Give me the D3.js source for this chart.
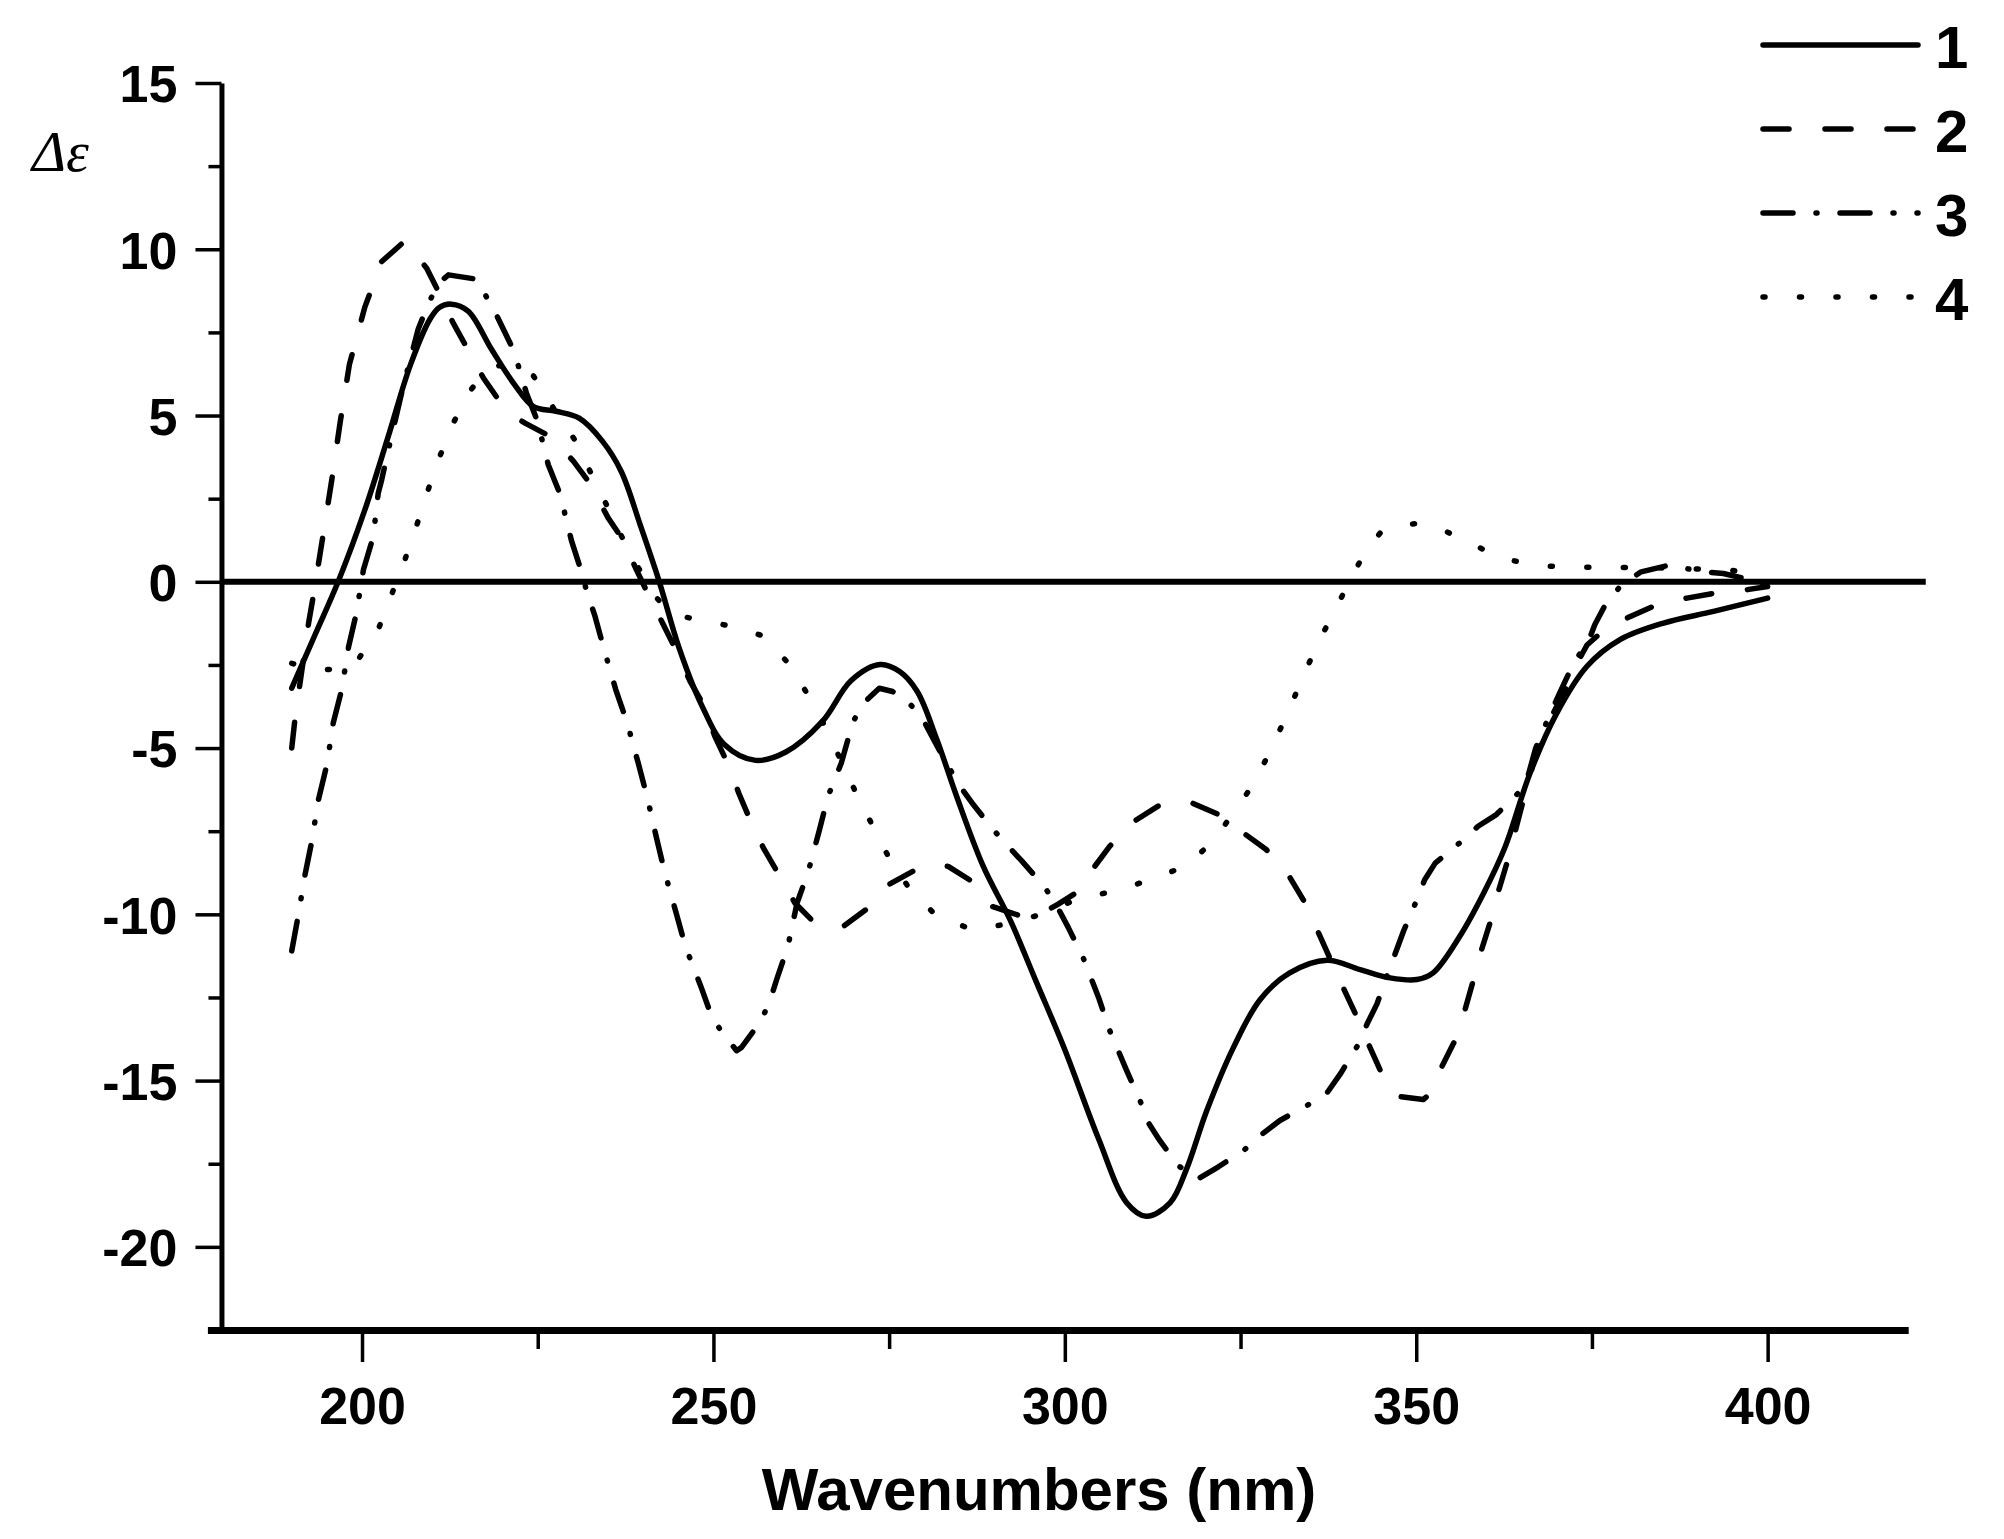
<!DOCTYPE html>
<html>
<head>
<meta charset="utf-8">
<script src="https://cdn.jsdelivr.net/npm/d3@7"></script>
<style>
    body { margin: 0; background: #fff; }
    svg { display: block; }
    .axis text { font-family: "Liberation Sans", Arial, sans-serif; font-weight: bold; font-size: 52px; fill: #000; }
    .axis line { stroke: #000; stroke-width: 3.5; }
    .curve { fill: none; stroke: #000; stroke-width: 5.5; stroke-linecap: round; stroke-linejoin: round; }
</style>
</head>
<body>
<div id="chart"></div>
<script>
// CD spectra, [wavelength nm, delta epsilon]
const series1 = [[190,-3.2],[193.3,-1.6],[196.6,0],[200.4,2.16],[203.7,4.35],[206.9,6.53],[209.7,7.91],[211,8.25],[212.7,8.35],
    [215.1,8.14],[218.4,7.0],[221.6,5.96],[224.4,5.27],[227.6,5.13],[230.9,4.92],[234.2,4.23],[236.9,3.31],[239.6,1.7],
    [242.3,0],[245.1,-1.98],[248.3,-3.7],[251.6,-4.9],[256,-5.37],[260.3,-5.12],[265.5,-4.2],[269.6,-2.97],[273.7,-2.49],
    [276.5,-2.7],[279,-3.3],[281.8,-4.75],[284.6,-6.45],[288.4,-8.56],[292.2,-10.16],[296,-12.06],[300,-14.07],
    [304.8,-16.75],[308.8,-18.67],[311.6,-19.08],[315,-18.67],[317.3,-17.67],[320.2,-15.9],[324,-14.0],[327.8,-12.56],
    [332,-11.76],[337.3,-11.38],[342,-11.66],[346.3,-11.91],[350.1,-11.96],[352.4,-11.76],[356.2,-10.66],[359.6,-9.36],
    [362.6,-8.0],[366.2,-5.75],[370,-3.95],[374.3,-2.54],[379,-1.74],[385.2,-1.24],[392.3,-0.89],[400,-0.49]];

const series2 = [[190,-5.0],[190.5,-4.05],[192.4,-1.24],[193.1,-0.39],[194.5,1.46],[195.7,3.07],[196.9,4.81],[198.2,6.53],
    [200.4,8.26],[202.8,9.63],[204.5,9.95],[206.1,10.25],[207.6,9.85],[209.2,9.43],[211.1,8.63],[213,7.77],[215.1,6.97],
    [217.3,6.12],[219.6,5.42],[221.5,5.0],[223.2,4.77],[226.8,4.37],[228.5,4.0],[230.1,3.62],[232.4,2.97],[235,1.93],
    [237.2,1.24],[239,0.38],[240.7,-0.37],[242.9,-1.3],[244.5,-1.98],[246.7,-3.0],[248.6,-3.7],[250.2,-4.65],[252,-5.45],
    [253.6,-6.35],[255.2,-7.15],[257.1,-8.0],[259.3,-8.8],[261.6,-9.66],[264.4,-10.26],[268.5,-10.36],[271.7,-9.86],
    [274.9,-9.11],[279.2,-8.61],[281,-8.5],[283.4,-8.56],[286.8,-9.01],[289.6,-9.76],[293.9,-10.06],[296.5,-10.0],
    [299,-9.7],[302,-9.3],[304.1,-8.6],[306.4,-7.95],[309.5,-7.25],[313.6,-6.7],[316,-6.6],[318.1,-6.65],[321.9,-7.0],
    [325.4,-7.55],[328.7,-8.06],[331.8,-8.81],[334.2,-9.66],[336.1,-10.56],[337.7,-11.31],[339.6,-12.2],[341.5,-13.06],
    [343.2,-13.9],[344.9,-14.7],[347.2,-15.47],[351,-15.57],[352.5,-15.3],[353.6,-14.6],[355.5,-13.8],[356.9,-12.9],
    [358.1,-12.0],[359.3,-11.06],[360.5,-10.26],[361.7,-9.3],[362.9,-8.46],[364.7,-7.0],[366.6,-5.5],[369.5,-3.95],
    [371.2,-3.25],[372.5,-2.6],[374.3,-1.9],[377,-1.4],[380,-1.09],[383.7,-0.74],[388.5,-0.49],[392.5,-0.34],
    [397,-0.24],[400,-0.14]];

const series3 = [[190,-11.1],[190.9,-10.06],[191.9,-8.8],[192.8,-7.86],[193.8,-6.55],[195,-5.5],[195.9,-4.25],[197.1,-3.25],
    [198.1,-1.94],[199.2,-0.94],[200.2,0.36],[201.6,1.36],[202.3,2.66],[202.8,3.07],[204,4.2],[206,6.0],[208,7.6],
    [209.5,8.4],[211,9.0],[212.3,9.23],[216.3,9.1],[217.8,8.53],[219.3,7.95],[221.5,6.99],[222.4,6.39],[223.4,5.67],
    [224.9,4.87],[225.8,4.12],[226.5,3.52],[228.4,2.52],[228.9,2.0],[229.8,1.24],[231.2,0.32],[232,-0.31],[233.1,-1.0],
    [234.4,-2.0],[236.1,-3.24],[237.7,-4.22],[239.3,-5.45],[240.6,-6.5],[241.9,-7.7],[243.1,-8.76],[244.7,-9.96],
    [246,-10.96],[248.2,-12.16],[249.8,-13.1],[251.4,-13.6],[253.3,-14.1],[254,-14.0],[256.8,-13.2],[258.1,-12.56],
    [259,-11.96],[260.6,-10.96],[261.9,-9.66],[263.5,-8.71],[265.1,-7.45],[266.3,-6.45],[268.2,-5.45],[269.8,-4.25],
    [271.1,-3.7],[273.6,-3.2],[275.5,-3.3],[277.4,-3.55],[279.6,-4.05],[281.1,-4.65],[283,-5.4],[285.1,-6.15],
    [286.8,-6.65],[289.6,-7.4],[291.7,-7.9],[293.9,-8.4],[297.2,-9.2],[299,-9.8],[300.5,-10.4],[302.6,-11.3],
    [304.8,-12.5],[306.4,-13.5],[308.8,-14.7],[310.7,-15.6],[311.9,-16.27],[313.5,-16.8],[316.2,-17.57],[319,-17.95],
    [321.8,-17.6],[325.6,-17.07],[328,-16.62],[330.6,-16.2],[335.1,-15.67],[337.3,-15.37],[339.2,-14.8],[341.8,-13.9],
    [343,-13.3],[344.4,-12.7],[346,-11.76],[348.2,-10.5],[350.1,-9.56],[351.2,-8.96],[352.7,-8.46],[356.7,-7.76],
    [358.8,-7.35],[361.4,-7.0],[365.5,-6.15],[367,-5.0],[369,-4.0],[370.5,-3.3],[372.5,-2.4],[374.5,-1.8],[375.4,-1.29],
    [376.9,-0.69],[379.2,-0.09],[382,0.3],[385.6,0.48],[388,0.42],[390.4,0.31],[393.7,0.25],[396.5,0.11],[400,-0.15]];

const series4 = [[190,-2.45],[192.5,-2.6],[195,-2.64],[197.6,-2.6],[199.2,-2.42],[200.5,-2.0],[202.3,-1.44],[204.2,-0.39],
    [206.1,0.66],[207.8,1.71],[209.4,2.76],[211.1,3.79],[213.1,4.82],[215.4,5.75],[217.5,6.3],[219.5,6.5],[222.4,6.39],
    [224.4,6.19],[227.3,5.2],[230.2,4.29],[232.5,3.3],[234.8,2.31],[238,0.9],[240.5,0],[242,-0.5],[244,-0.95],[247,-1.11],
    [252.2,-1.32],[256.8,-1.61],[260.7,-2.45],[263.5,-3.42],[266,-4.4],[268.2,-5.4],[270.4,-6.4],[272.8,-7.4],
    [275.1,-8.35],[278,-9.26],[282,-10.1],[287,-10.46],[291.5,-10.3],[296.7,-10.0],[302.2,-9.5],[307.1,-9.31],
    [312.1,-8.96],[317.1,-8.56],[320.9,-7.85],[324,-6.95],[327.1,-6.0],[329.4,-5.0],[331.6,-4.0],[333.7,-2.95],
    [335.8,-1.94],[338.2,-0.94],[340.5,0],[342.7,0.9],[345,1.5],[347.7,1.71],[350,1.75],[352.9,1.66],[357.4,1.18],
    [362.6,0.68],[367.9,0.48],[373.1,0.44],[378.3,0.43],[383,0.43],[388,0.4],[393.7,0.36],[400,0.25]];

const seriesNames = ["1", "2", "3", "4"];
const xTicksMajor = [200, 250, 300, 350, 400];
const xTicksMinor = [225, 275, 325, 375];
const yTicksMajor = [15, 10, 5, 0, -5, -10, -15, -20];
const yTicksMinor = [12.5, 7.5, 2.5, -2.5, -7.5, -12.5, -17.5];

const width = 2004, height = 1539;
const dashes = [null, "26,36", "30,23,1,23", "2,34.5"];

let svg = d3.select("#chart").append("svg").attr("width", width).attr("height", height);

let xScale = d3.scaleLinear().domain([178, 420]).range([207.4, 1908.2]);
let yScale = d3.scaleLinear().domain([-22.5, 15]).range([1330, 83]);
let yAxisX = xScale(180);

// zero line
svg.append("line")
    .attr("x1", yAxisX).attr("x2", xScale(422.5))
    .attr("y1", yScale(0)).attr("y2", yScale(0))
    .attr("stroke", "#000").attr("stroke-width", 6);

// curves
let line = d3.line().x(d => xScale(d[0])).y(d => yScale(d[1]));
let allSeries = [series1, series2, series3, series4];
allSeries.forEach((s, i) => {
    let path = svg.append("path").attr("class", "curve")
        .attr("d", line.curve(i == 0 ? d3.curveCatmullRom.alpha(0.5) : d3.curveLinear)(s));
    if (dashes[i]) path.attr("stroke-dasharray", dashes[i]);
    if (i == 3) path.attr("stroke-width", 6.5);
});

// x axis
let xAxis = svg.append("g").attr("class", "axis").attr("transform", `translate(0,${yScale(-22.5)})`);
xAxis.call(d3.axisBottom(xScale).tickValues(xTicksMajor).tickSize(32).tickSizeOuter(0).tickPadding(25).tickFormat(d => String(d)));
xAxis.append("g").call(d3.axisBottom(xScale).tickValues(xTicksMinor).tickSize(19).tickSizeOuter(0).tickFormat(""))
    .select(".domain").remove();
xAxis.select(".domain").attr("stroke", "#000").attr("stroke-width", 7);

// y axis
let yAxis = svg.append("g").attr("class", "axis").attr("transform", `translate(${yAxisX},0)`);
yAxis.call(d3.axisLeft(yScale).tickValues(yTicksMajor).tickSize(26).tickSizeOuter(0).tickPadding(18).tickFormat(d => String(d)));
yAxis.append("g").call(d3.axisLeft(yScale).tickValues(yTicksMinor).tickSize(13).tickSizeOuter(0).tickFormat(""))
    .select(".domain").remove();
yAxis.select(".domain").attr("stroke", "#000").attr("stroke-width", 5);
yAxis.selectAll("text").attr("dy", "0.36em");

// axis titles
svg.append("text")
    .attr("x", 1039).attr("y", 1510)
    .attr("text-anchor", "middle")
    .style("font-family", "'Liberation Sans', Arial, sans-serif")
    .style("font-weight", "bold").style("font-size", "60px")
    .text("Wavenumbers (nm)");

svg.append("text")
    .attr("x", 32).attr("y", 171)
    .style("font-family", "'Liberation Serif', 'Times New Roman', serif")
    .style("font-style", "italic").style("font-size", "58px")
    .text("Δε");

// legend
let legend = svg.append("g").attr("id", "legend");
seriesNames.forEach((name, i) => {
    let ly = 45 + i * 84;
    let l = legend.append("line").attr("class", "curve")
        .attr("x1", 1763).attr("x2", 1918).attr("y1", ly).attr("y2", ly);
    if (dashes[i]) l.attr("stroke-dasharray", dashes[i]);
    if (i == 3) l.attr("stroke-width", 6.5);
    legend.append("text")
        .attr("x", 1935).attr("y", ly + 23)
        .style("font-family", "'Liberation Sans', Arial, sans-serif")
        .style("font-weight", "bold").style("font-size", "60px")
        .text(name);
});
</script>
</body>
</html>
